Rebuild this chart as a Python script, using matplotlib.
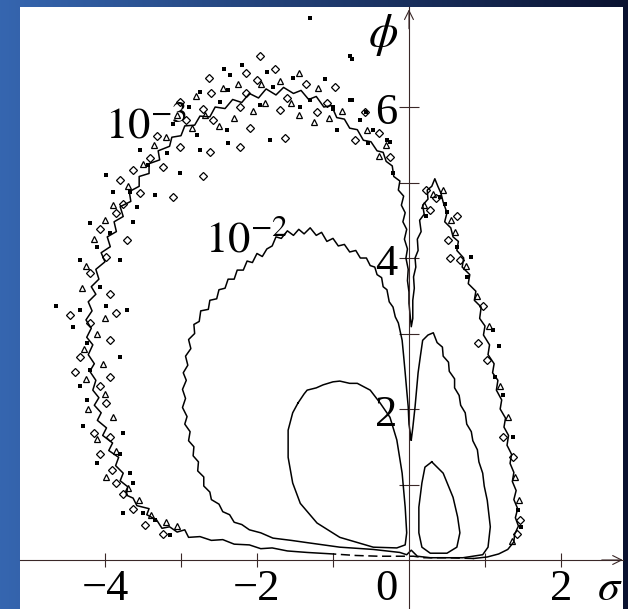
import numpy as np
import matplotlib.pyplot as plt

plt.rcParams['mathtext.fontset'] = 'stix'
plt.rcParams['font.family'] = ['Liberation Serif', 'DejaVu Serif']

# level 1e-3: main outline (left lobe, valley tongue, right lobe)
l1_sigma = [-1.0, -1.34, -1.6, -1.8, -1.95, -2.1, -2.3, -2.45, -2.6, -2.75, -2.9, -2.95, -3.05, -3.15,
            -3.25, -3.32, -3.45, -3.42, -3.58, -3.63, -3.72, -3.7, -3.8, -3.76, -3.86, -3.82, -3.95, -3.9,
            -4.03, -3.98, -4.1, -4.05, -4.14, -4.08, -4.16, -4.12, -4.2, -4.14, -4.22, -4.16, -4.24, -4.18,
            -4.25, -4.17, -4.22, -4.12, -4.18, -4.08, -4.12, -4.0, -4.05, -3.93, -3.97, -3.85, -3.88, -3.76,
            -3.8, -3.66, -3.68, -3.55, -3.55, -3.42, -3.42, -3.28, -3.3, -3.15, -3.12, -3.0, -2.95, -2.82,
            -2.75, -2.62, -2.55, -2.42, -2.32, -2.2, -2.1, -1.98, -1.88, -1.75, -1.65, -1.52, -1.42, -1.32,
            -1.22, -1.12, -1.02, -0.95, -0.85, -0.78, -0.68, -0.6, -0.5, -0.42, -0.34, -0.3, -0.22, -0.2,
            -0.12, -0.14, -0.07, -0.1, -0.05, -0.08, -0.03, -0.06, -0.02, -0.04, -0.01, -0.02, 0.0, 0.0,
            0.02, 0.03, 0.05, 0.05, 0.07, 0.06, 0.09, 0.08, 0.12, 0.11, 0.16, 0.14, 0.2, 0.18, 0.25, 0.24,
            0.3, 0.34, 0.38, 0.42, 0.45, 0.5, 0.47, 0.55, 0.58, 0.65, 0.63, 0.72, 0.7, 0.8, 0.78, 0.88,
            0.86, 0.95, 0.93, 1.0, 0.98, 1.06, 1.04, 1.12, 1.1, 1.17, 1.15, 1.22, 1.2, 1.27, 1.25, 1.31,
            1.29, 1.35, 1.33, 1.38, 1.36, 1.41, 1.38, 1.43, 1.4, 1.44, 1.39, 1.38, 1.3, 1.18, 1.03, 0.85]
l1_phi = [0.08, 0.10, 0.12, 0.16, 0.15, 0.2, 0.21, 0.27, 0.26, 0.31, 0.30, 0.4, 0.37, 0.44,
          0.42, 0.53, 0.6, 0.68, 0.72, 0.82, 0.86, 0.97, 1.05, 1.15, 1.25, 1.36, 1.45, 1.55,
          1.65, 1.75, 1.85, 1.95, 2.05, 2.15, 2.25, 2.38, 2.5, 2.6, 2.72, 2.85, 2.95, 3.07,
          3.18, 3.3, 3.42, 3.52, 3.62, 3.72, 3.85, 3.95, 4.07, 4.15, 4.28, 4.35, 4.48, 4.55,
          4.68, 4.75, 4.88, 4.95, 5.08, 5.12, 5.25, 5.3, 5.42, 5.48, 5.6, 5.62, 5.75, 5.76,
          5.88, 5.87, 6.0, 5.98, 6.1, 6.06, 6.18, 6.12, 6.24, 6.16, 6.26, 6.18, 6.22, 6.1,
          6.14, 6.0, 6.02, 5.86, 5.84, 5.72, 5.7, 5.56, 5.54, 5.42, 5.4, 5.28, 5.22, 5.08,
          5.02, 4.9, 4.82, 4.7, 4.6, 4.48, 4.38, 4.25, 4.12, 4.0, 3.85, 3.7, 3.55, 3.4,
          3.2, 3.09, 3.2, 3.44, 3.6, 3.75, 3.88, 4.0, 4.1, 4.25, 4.35, 4.5, 4.58, 4.7, 4.78, 4.9,
          4.95, 5.05, 4.95, 4.86, 4.74, 4.6, 4.48, 4.4, 4.28, 4.22, 4.1, 4.0, 3.88, 3.78, 3.66, 3.56,
          3.44, 3.35, 3.2, 3.1, 2.98, 2.85, 2.72, 2.6, 2.48, 2.38, 2.25, 2.12, 2.0, 1.88, 1.76, 1.65,
          1.52, 1.4, 1.28, 1.16, 1.04, 0.92, 0.8, 0.68, 0.56, 0.45, 0.34, 0.24, 0.14, 0.08, 0.04, 0.02]

# level 1e-3: broken piece along the sigma axis
l1_base_sigma = [0.85, 0.5, 0.2, 0.06, -0.02, -0.4, -0.7, -1.0]
l1_base_phi = [0.02, 0.03, 0.03, 0.05, 0.05, 0.05, 0.06, 0.08]

# level 1e-3: small closed islands and specks of the noisy band
island_sigma = [-1.96, -2.14, -1.76, -2.63, -2.00, -1.35, -0.97, -2.60, -2.14, -1.61, -1.08, -3.01,
                -2.71, -2.22, -1.70, -1.21, -0.58, -3.32, -2.93, -2.58, -2.09, -2.22, -1.63, -3.41,
                -3.01, -2.62, -3.63, -3.23, -2.71, -3.80, -3.54, -3.10, -3.76, -3.85, -4.07, -3.71,
                -3.98, -4.20, -3.93, -4.46, -3.85, -4.20, -3.93, -4.33, -3.93, -4.39, -4.07, -3.98,
                -4.15, -3.93, -4.07, -3.91, -3.85, -3.76, -3.63, -3.47, -3.23, -0.40, -0.71, -0.25,
                0.23, 0.36, 0.28, 0.63, 0.52, 0.67, 0.54, 0.98, 0.91, 1.02, 1.24, 1.37, 1.46, 1.42]
island_phi = [6.67, 6.45, 6.50, 6.39, 6.36, 6.31, 6.27, 6.19, 6.18, 6.12, 6.05, 6.07,
              5.98, 6.00, 5.96, 5.94, 5.94, 5.61, 5.83, 5.83, 5.72, 5.47, 5.59, 5.32,
              5.47, 5.41, 5.17, 5.21, 5.08, 5.03, 4.86, 4.81, 4.72, 4.59, 4.39, 4.24,
              4.02, 3.80, 3.53, 3.25, 3.27, 3.14, 2.91, 2.69, 2.43, 2.49, 2.30, 2.08,
              1.68, 1.63, 1.41, 1.19, 1.02, 0.88, 0.68, 0.46, 0.35, 5.65, 5.56, 5.34,
              4.90, 4.79, 4.64, 4.56, 4.24, 3.97, 4.00, 3.36, 2.87, 2.65, 1.63, 1.37, 0.53, 0.35]
loop_sigma = [-3.2, -2.85, -2.68, -2.5, -2.3, -2.05, -1.9, -1.55, -1.45, -1.25, -1.05, -0.88, -2.45,
              -2.25, -1.95, -1.7, -1.45, -1.2, -2.8, -3.05, -3.35, -3.5, -0.4, -0.55, -0.3,
              -3.7, -3.9, -4.0, -4.15, -4.25, -4.3, -4.0, -4.1, -4.28, -4.02, -4.25, -4.0, -4.22,
              -3.9, -4.1, -3.85, -3.98, -3.7, -3.55, -3.4, -3.2, -3.05,
              0.2, 0.32, 0.45, 0.55, 0.6, 0.75, 0.9, 1.05, 1.2, 1.3, 1.4, 1.45, 1.35]
loop_phi = [5.6, 5.72, 5.9, 5.75, 5.85, 5.95, 6.05, 6.05, 5.9, 5.8, 5.85, 5.95, 6.25,
            6.3, 6.3, 6.35, 6.45, 6.25, 6.15, 5.9, 5.5, 5.25, 5.35, 5.7, 5.5,
            4.95, 4.7, 4.5, 4.25, 3.9, 3.6, 3.2, 3.0, 2.8, 2.6, 2.4, 2.2, 2.0,
            1.9, 1.6, 1.45, 1.1, 0.95, 0.8, 0.6, 0.5, 0.45,
            4.7, 4.85, 4.9, 4.5, 4.35, 3.9, 3.5, 3.1, 2.3, 1.9, 1.1, 0.8, 0.25]
speck_sigma = [-2.20, -2.44, -1.87, -2.36, -1.52, -1.11, -2.75, -2.38, -1.79, -1.30, -2.90, -2.49,
               -1.96, -1.43, -1.00, -0.78, -0.47, -3.10, -2.79, -2.40, -2.38, -1.83, -3.54, -3.19,
               -2.75, -3.43, -3.01, -3.98, -3.67, -3.34, -3.89, -3.58, -3.63, -4.20, -3.93, -4.11,
               -3.80, -4.33, -4.07, -4.64, -4.33, -3.98, -3.71, -4.42, -4.24, -3.80, -4.33, -4.20,
               -4.33, -4.24, -4.29, -3.76, -4.11, -3.80, -3.67, -3.63, -3.76, -3.50, -3.34, -3.14,
               -0.78, -1.30, -0.75, -0.75, -0.56, -1.00, -0.95, -0.54, -0.25, -0.21, -0.29, -0.64,
               0.41, 0.47, 0.50, 0.23, 0.63, 0.82, 0.76, 1.11, 1.18, 1.13, 1.24, 1.37, 1.44, 1.48]
speck_phi = [6.56, 6.51, 6.47, 6.42, 6.38, 6.37, 6.20, 6.23, 6.27, 6.09, 6.00, 6.07,
             6.03, 6.00, 5.98, 6.09, 5.70, 5.78, 5.63, 5.70, 5.52, 5.56, 5.43, 5.39,
             5.43, 5.23, 5.12, 5.10, 4.88, 4.83, 4.88, 4.68, 4.48, 4.46, 4.33, 4.15,
             3.97, 3.97, 3.62, 3.36, 3.31, 3.36, 3.31, 3.09, 2.87, 2.69, 2.30, 2.52,
             2.30, 2.12, 1.77, 1.68, 1.28, 1.41, 1.15, 1.02, 0.62, 0.62, 0.53, 0.33,
             6.67, 7.18, 6.64, 6.09, 5.94, 6.00, 5.70, 5.52, 5.54, 5.12, 5.56, 5.83,
             4.81, 4.72, 4.61, 4.55, 4.15, 4.02, 3.75, 3.05, 2.83, 2.43, 2.19, 1.63, 0.66, 0.44]

# level 1e-2: one outline joining both lobes below phi ~ 1.6
l2_sigma = [0.03, 0.0, -0.01, -0.03, -0.05, -0.07, -0.09, -0.14, -0.18, -0.21, -0.26, -0.29, -0.34,
            -0.36, -0.42, -0.45, -0.51, -0.56, -0.64, -0.7, -0.78, -0.85, -0.93, -1.0, -1.08, -1.15,
            -1.22, -1.3, -1.38, -1.45, -1.52, -1.6, -1.68, -1.75, -1.8, -1.87, -1.93, -2.0, -2.06,
            -2.13, -2.18, -2.26, -2.3, -2.38, -2.42, -2.5, -2.53, -2.62, -2.64, -2.74, -2.76, -2.83,
            -2.82, -2.9, -2.87, -2.94, -2.91, -2.97, -2.93, -2.98, -2.94, -2.98, -2.92, -2.95, -2.88,
            -2.9, -2.83, -2.84, -2.77, -2.78, -2.7, -2.7, -2.62, -2.6, -2.5, -2.45, -2.36, -2.3, -2.2,
            -2.1, -1.95, -1.79, -1.55, -1.34, -0.91, -0.47, -0.12, -0.03, 0.03, 0.11, 0.28, 0.71, 0.97,
            1.04, 1.07, 1.03, 0.99, 0.97, 0.92, 0.9, 0.84, 0.82, 0.76, 0.74, 0.68, 0.66, 0.6, 0.6,
            0.53, 0.52, 0.45, 0.44, 0.37, 0.32, 0.25, 0.18, 0.15, 0.12, 0.08, 0.05, 0.03]
l2_phi = [1.59, 1.8, 2.03, 2.25, 2.48, 2.7, 2.91, 3.14, 3.22, 3.35, 3.42, 3.58, 3.62,
          3.74, 3.78, 3.88, 3.9, 4.0, 4.0, 4.1, 4.08, 4.18, 4.16, 4.26, 4.22, 4.34,
          4.3, 4.4, 4.32, 4.38, 4.3, 4.36, 4.26, 4.28, 4.16, 4.12, 4.02, 4.06, 3.94,
          3.96, 3.84, 3.84, 3.72, 3.72, 3.6, 3.58, 3.46, 3.44, 3.32, 3.3, 3.16, 3.12,
          3.0, 2.92, 2.8, 2.7, 2.58, 2.48, 2.38, 2.26, 2.14, 2.02, 1.9, 1.8, 1.7,
          1.58, 1.5, 1.38, 1.3, 1.18, 1.1, 0.98, 0.9, 0.8, 0.74, 0.64, 0.6, 0.5, 0.47,
          0.4, 0.36, 0.29, 0.26, 0.23, 0.17, 0.14, 0.10, 0.07, 0.13, 0.05, 0.03, 0.03, 0.07,
          0.17, 0.44, 0.79, 0.98, 1.15, 1.3, 1.46, 1.58, 1.7, 1.8, 1.95, 2.05, 2.18, 2.28, 2.4,
          2.5, 2.62, 2.7, 2.82, 2.88, 3.01, 2.98, 2.91, 2.7, 2.48, 2.03, 1.75, 1.59]

# level 1e-1: left lobe loop and right lobe oval
l3_left_sigma = [-1.46, -1.38, -1.34, -1.22, -1.13, -1.0, -0.91, -0.78, -0.68, -0.51, -0.38, -0.25,
                 -0.16, -0.09, -0.05, -0.03, -0.05, -0.16, -0.47, -0.91, -1.21, -1.43, -1.53, -1.59,
                 -1.59, -1.53, -1.46]
l3_left_phi = [2.08, 2.2, 2.25, 2.28, 2.32, 2.36, 2.37, 2.34, 2.34, 2.25, 2.08, 1.89,
               1.59, 1.15, 0.70, 0.36, 0.20, 0.16, 0.17, 0.30, 0.49, 0.75, 1.02, 1.36,
               1.72, 1.95, 2.08]
l3_right_sigma = [0.30, 0.45, 0.58, 0.64, 0.67, 0.63, 0.50, 0.28, 0.17, 0.13, 0.13, 0.17, 0.21, 0.30]
l3_right_phi = [1.30, 1.15, 0.83, 0.57, 0.36, 0.17, 0.09, 0.09, 0.17, 0.36, 0.70, 1.02, 1.23, 1.30]

x_ticks = [-4, -3, -2, -1, 1, 2]
y_ticks = [1, 2, 3, 4, 5, 6]
x_labels = {-4: '\u22124', -2: '\u22122', 2: '2'}
y_labels = {2: '2', 4: '4', 6: '6'}

fig = plt.figure(figsize=(6.28, 6.09), dpi=100)

# slide background gradient
bg = fig.add_axes([0, 0, 1, 1])
t = np.linspace(0, 1, 256)[None, :, None]
left_col = np.array([0.21, 0.40, 0.69])
right_col = np.array([0.04, 0.07, 0.19])
grad = left_col * (1 - t) + right_col * t
grad = np.repeat(grad, 2, axis=0)
bg.imshow(grad, aspect='auto', extent=[0, 1, 0, 1])
bg.set_axis_off()

ax = fig.add_axes([20 / 628, 0, 603 / 628, 602 / 609])
ax.set_facecolor('white')
ax.set_xlim(-5.118, 2.816)
ax.set_ylim(-0.649, 7.325)

axis_col = '#3a2828'
for side in ['top', 'right']:
    ax.spines[side].set_visible(False)
ax.spines['left'].set_position(('data', 0))
ax.spines['bottom'].set_position(('data', 0))
ax.spines['left'].set_color(axis_col)
ax.spines['bottom'].set_color(axis_col)
ax.spines['left'].set_linewidth(0.8)
ax.spines['bottom'].set_linewidth(0.8)
ax.set_xticks(x_ticks)
ax.set_yticks(y_ticks)
ax.tick_params(axis='x', direction='inout', length=10, width=0.8, color=axis_col, labelbottom=False)
ax.tick_params(axis='y', direction='inout', length=14, width=0.8, color=axis_col, labelleft=False)

ax.annotate('', xy=(2.85, 0), xytext=(2.5, 0), annotation_clip=False,
            arrowprops=dict(arrowstyle='->', lw=0.8, color=axis_col, mutation_scale=16))
ax.annotate('', xy=(0, 7.33), xytext=(0, 7.0), annotation_clip=False,
            arrowprops=dict(arrowstyle='->', lw=0.8, color=axis_col, mutation_scale=16))

lw = 1.1
ax.plot(l1_sigma, l1_phi, color='black', lw=lw)
ax.plot(l1_base_sigma, l1_base_phi, color='black', lw=lw, linestyle=(0, (6, 3)))
ax.plot(island_sigma, island_phi, linestyle='none', marker='D', markersize=4.2,
        markerfacecolor='none', markeredgecolor='black', markeredgewidth=0.9)
ax.plot(loop_sigma, loop_phi, linestyle='none', marker='^', markersize=4.0,
        markerfacecolor='none', markeredgecolor='black', markeredgewidth=0.9)
ax.plot(speck_sigma, speck_phi, linestyle='none', marker='s', markersize=2.2,
        color='black', markeredgewidth=0)
ax.plot(l2_sigma, l2_phi, color='black', lw=lw)
ax.plot(l3_left_sigma, l3_left_phi, color='black', lw=lw)
ax.plot(l3_right_sigma, l3_right_phi, color='black', lw=lw)

fs = 32
for v, s in x_labels.items():
    ax.text(v, -0.53, s, ha='center', va='baseline', fontsize=fs)
ax.text(-0.30, -0.53, '0', ha='center', va='baseline', fontsize=fs)
ax.text(2.47, -0.53, r'$\sigma$', ha='left', va='baseline', fontsize=fs)
for v, s in y_labels.items():
    ax.text(-0.15, v - 0.22, s, ha='right', va='baseline', fontsize=fs, zorder=4)
ax.text(-0.14, 6.95, r'$\phi$', ha='right', va='center', fontsize=34)

ax.text(-4.0, 5.59, r'$10^{-3}$', ha='left', va='baseline', fontsize=fs, zorder=4)
ax.text(-2.68, 4.08, r'$10^{-2}$', ha='left', va='baseline', fontsize=fs, zorder=4)

fig.savefig('out.png', dpi=100)
